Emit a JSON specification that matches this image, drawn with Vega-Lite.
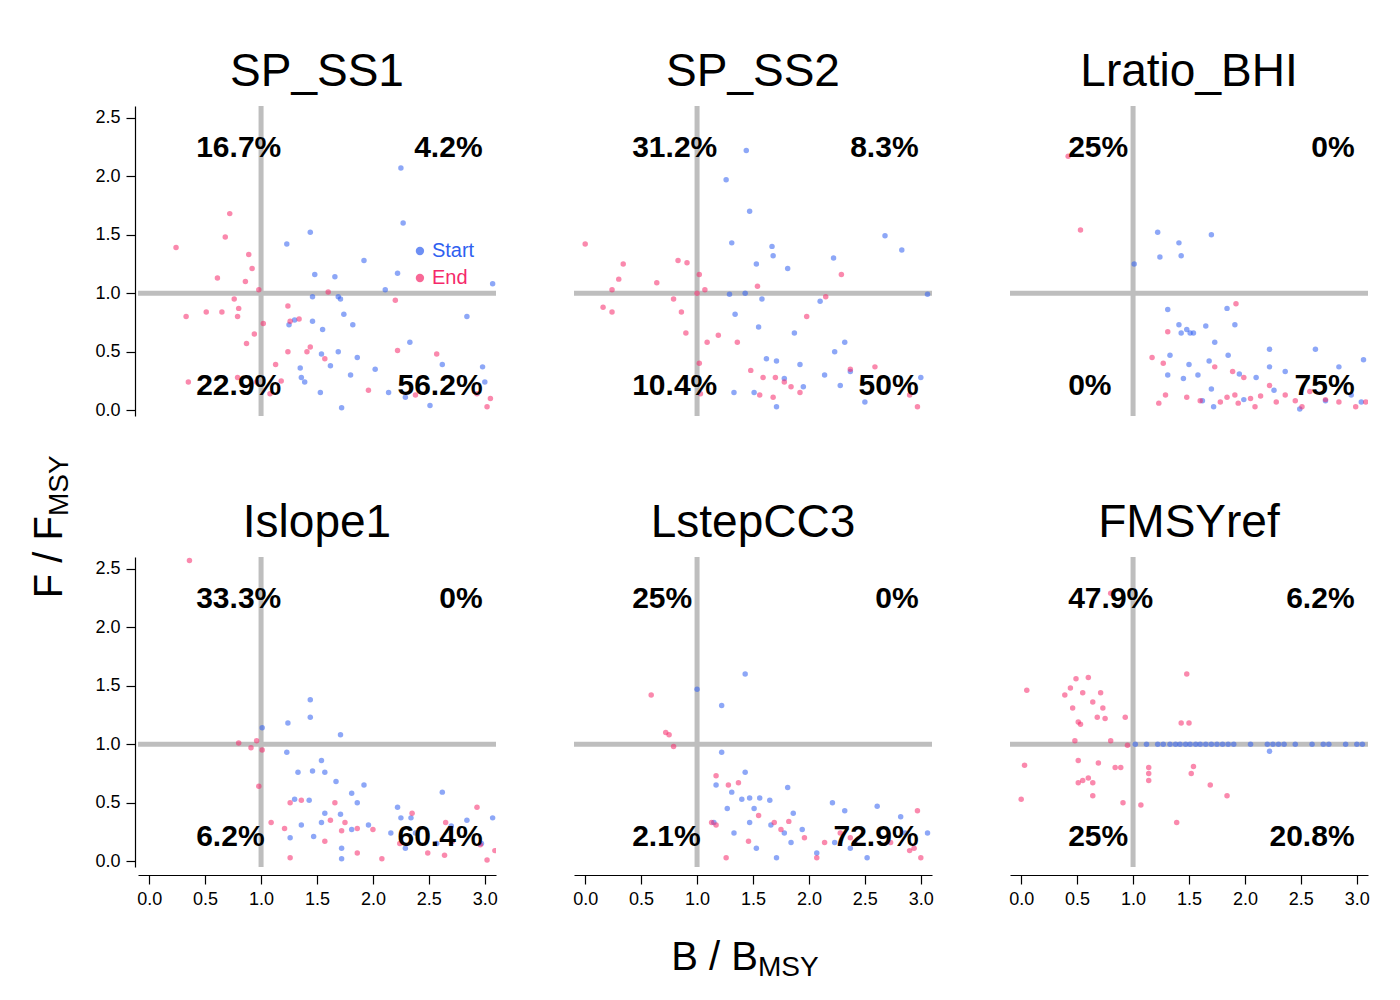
{
  "$schema": "https://vega.github.io/schema/vega-lite/v6.json",
  "background": "white",
  "padding": {"top": 48, "left": 30, "right": 5, "bottom": 5},
  "config": {
    "view": {"stroke": null},
    "font": "Liberation Sans",
    "axis": {"grid": false, "domainColor": "black", "tickColor": "black", "labelColor": "black", "labelFontSize": 18, "tickSize": 9, "labelPadding": 6, "title": null, "domainWidth": 1.2, "tickWidth": 1.2},
    "axisX": {"offset": 5},
    "axisY": {"offset": 0}
  },
  "spacing": 0,
  "vconcat": [
    {
      "hconcat": [
        {
          "width": 30,
          "height": 820,
          "data": {"values": [{"a": "F / F", "b": "MSY"}]},
          "layer": [
            {"mark": {"type": "text", "angle": 270, "fontSize": 40, "align": "right", "baseline": "middle", "font": "Liberation Sans"}, "encoding": {"text": {"field": "a"}, "x": {"value": 12}, "y": {"value": 410}}},
            {"mark": {"type": "text", "angle": 270, "fontSize": 28, "align": "left", "baseline": "middle", "dy": 10, "font": "Liberation Sans"}, "encoding": {"text": {"field": "b"}, "x": {"value": 12}, "y": {"value": 410}}}
          ]
        },
        {
          "data": {"values": [
            {"p":"SP_SS1","k":"s","x":2.25,"y":2.07},{"p":"SP_SS1","k":"s","x":2.27,"y":1.6},{"p":"SP_SS1","k":"s","x":1.23,"y":1.42},{"p":"SP_SS1","k":"s","x":1.44,"y":1.52},{"p":"SP_SS1","k":"s","x":1.92,"y":1.28},{"p":"SP_SS1","k":"s","x":2.22,"y":1.17},{"p":"SP_SS1","k":"s","x":1.48,"y":1.16},{"p":"SP_SS1","k":"s","x":1.66,"y":1.14},{"p":"SP_SS1","k":"s","x":3.07,"y":1.08},{"p":"SP_SS1","k":"s","x":2.11,"y":1.03},{"p":"SP_SS1","k":"s","x":1.69,"y":0.97},{"p":"SP_SS1","k":"s","x":1.46,"y":0.97},{"p":"SP_SS1","k":"s","x":1.71,"y":0.95},{"p":"SP_SS1","k":"s","x":2.84,"y":0.8},{"p":"SP_SS1","k":"s","x":1.3,"y":0.77},{"p":"SP_SS1","k":"s","x":1.46,"y":0.76},{"p":"SP_SS1","k":"s","x":1.25,"y":0.73},{"p":"SP_SS1","k":"s","x":1.82,"y":0.73},{"p":"SP_SS1","k":"s","x":1.74,"y":0.82},{"p":"SP_SS1","k":"s","x":1.55,"y":0.69},{"p":"SP_SS1","k":"s","x":2.33,"y":0.58},{"p":"SP_SS1","k":"s","x":1.69,"y":0.5},{"p":"SP_SS1","k":"s","x":1.54,"y":0.48},{"p":"SP_SS1","k":"s","x":1.86,"y":0.45},{"p":"SP_SS1","k":"s","x":1.62,"y":0.38},{"p":"SP_SS1","k":"s","x":1.35,"y":0.36},{"p":"SP_SS1","k":"s","x":2.62,"y":0.39},{"p":"SP_SS1","k":"s","x":2.98,"y":0.37},{"p":"SP_SS1","k":"s","x":2.02,"y":0.35},{"p":"SP_SS1","k":"s","x":1.39,"y":0.24},{"p":"SP_SS1","k":"s","x":3.0,"y":0.24},{"p":"SP_SS1","k":"s","x":1.8,"y":0.3},{"p":"SP_SS1","k":"s","x":2.14,"y":0.15},{"p":"SP_SS1","k":"s","x":1.53,"y":0.15},{"p":"SP_SS1","k":"s","x":2.29,"y":0.11},{"p":"SP_SS1","k":"s","x":2.51,"y":0.04},{"p":"SP_SS1","k":"s","x":1.72,"y":0.02},{"p":"SP_SS1","k":"s","x":1.36,"y":0.28},
            {"p":"SP_SS1","k":"e","x":0.24,"y":1.39},{"p":"SP_SS1","k":"e","x":0.72,"y":1.68},{"p":"SP_SS1","k":"e","x":0.68,"y":1.48},{"p":"SP_SS1","k":"e","x":0.89,"y":1.33},{"p":"SP_SS1","k":"e","x":0.92,"y":1.21},{"p":"SP_SS1","k":"e","x":0.86,"y":1.1},{"p":"SP_SS1","k":"e","x":0.61,"y":1.13},{"p":"SP_SS1","k":"e","x":0.76,"y":0.95},{"p":"SP_SS1","k":"e","x":0.98,"y":1.03},{"p":"SP_SS1","k":"e","x":1.6,"y":1.01},{"p":"SP_SS1","k":"e","x":2.2,"y":0.94},{"p":"SP_SS1","k":"e","x":0.33,"y":0.8},{"p":"SP_SS1","k":"e","x":0.51,"y":0.84},{"p":"SP_SS1","k":"e","x":0.65,"y":0.84},{"p":"SP_SS1","k":"e","x":0.79,"y":0.8},{"p":"SP_SS1","k":"e","x":0.8,"y":0.87},{"p":"SP_SS1","k":"e","x":1.02,"y":0.74},{"p":"SP_SS1","k":"e","x":1.24,"y":0.89},{"p":"SP_SS1","k":"e","x":1.26,"y":0.76},{"p":"SP_SS1","k":"e","x":1.34,"y":0.78},{"p":"SP_SS1","k":"e","x":0.87,"y":0.57},{"p":"SP_SS1","k":"e","x":0.94,"y":0.65},{"p":"SP_SS1","k":"e","x":1.44,"y":0.54},{"p":"SP_SS1","k":"e","x":1.41,"y":0.5},{"p":"SP_SS1","k":"e","x":1.24,"y":0.5},{"p":"SP_SS1","k":"e","x":2.22,"y":0.51},{"p":"SP_SS1","k":"e","x":2.57,"y":0.48},{"p":"SP_SS1","k":"e","x":0.79,"y":0.28},{"p":"SP_SS1","k":"e","x":0.35,"y":0.24},{"p":"SP_SS1","k":"e","x":0.96,"y":0.24},{"p":"SP_SS1","k":"e","x":1.08,"y":0.14},{"p":"SP_SS1","k":"e","x":1.18,"y":0.25},{"p":"SP_SS1","k":"e","x":1.96,"y":0.17},{"p":"SP_SS1","k":"e","x":2.38,"y":0.13},{"p":"SP_SS1","k":"e","x":2.93,"y":0.14},{"p":"SP_SS1","k":"e","x":3.05,"y":0.1},{"p":"SP_SS1","k":"e","x":3.02,"y":0.03},{"p":"SP_SS1","k":"e","x":1.13,"y":0.39},{"p":"SP_SS1","k":"e","x":1.57,"y":0.44},
            {"p":"SP_SS2","k":"s","x":1.44,"y":2.22},{"p":"SP_SS2","k":"s","x":1.26,"y":1.97},{"p":"SP_SS2","k":"s","x":1.47,"y":1.7},{"p":"SP_SS2","k":"s","x":1.31,"y":1.43},{"p":"SP_SS2","k":"s","x":1.67,"y":1.4},{"p":"SP_SS2","k":"s","x":2.68,"y":1.49},{"p":"SP_SS2","k":"s","x":2.83,"y":1.37},{"p":"SP_SS2","k":"s","x":1.68,"y":1.32},{"p":"SP_SS2","k":"s","x":1.53,"y":1.25},{"p":"SP_SS2","k":"s","x":1.81,"y":1.21},{"p":"SP_SS2","k":"s","x":2.22,"y":1.3},{"p":"SP_SS2","k":"s","x":1.43,"y":1.0},{"p":"SP_SS2","k":"s","x":1.29,"y":0.99},{"p":"SP_SS2","k":"s","x":1.58,"y":0.95},{"p":"SP_SS2","k":"s","x":3.06,"y":0.99},{"p":"SP_SS2","k":"s","x":2.1,"y":0.93},{"p":"SP_SS2","k":"s","x":1.34,"y":0.82},{"p":"SP_SS2","k":"s","x":1.55,"y":0.71},{"p":"SP_SS2","k":"s","x":1.87,"y":0.66},{"p":"SP_SS2","k":"s","x":2.32,"y":0.58},{"p":"SP_SS2","k":"s","x":2.23,"y":0.5},{"p":"SP_SS2","k":"s","x":1.62,"y":0.44},{"p":"SP_SS2","k":"s","x":1.71,"y":0.42},{"p":"SP_SS2","k":"s","x":1.92,"y":0.39},{"p":"SP_SS2","k":"s","x":2.14,"y":0.3},{"p":"SP_SS2","k":"s","x":2.37,"y":0.33},{"p":"SP_SS2","k":"s","x":1.78,"y":0.27},{"p":"SP_SS2","k":"s","x":1.51,"y":0.15},{"p":"SP_SS2","k":"s","x":1.33,"y":0.15},{"p":"SP_SS2","k":"s","x":1.71,"y":0.03},{"p":"SP_SS2","k":"s","x":2.5,"y":0.07},{"p":"SP_SS2","k":"s","x":3.0,"y":0.28},{"p":"SP_SS2","k":"s","x":1.95,"y":0.2},{"p":"SP_SS2","k":"s","x":2.28,"y":0.21},
            {"p":"SP_SS2","k":"e","x":0.0,"y":1.42},{"p":"SP_SS2","k":"e","x":0.34,"y":1.25},{"p":"SP_SS2","k":"e","x":0.3,"y":1.12},{"p":"SP_SS2","k":"e","x":0.24,"y":1.03},{"p":"SP_SS2","k":"e","x":0.64,"y":1.09},{"p":"SP_SS2","k":"e","x":0.83,"y":1.28},{"p":"SP_SS2","k":"e","x":0.91,"y":1.26},{"p":"SP_SS2","k":"e","x":1.02,"y":1.16},{"p":"SP_SS2","k":"e","x":1.54,"y":1.06},{"p":"SP_SS2","k":"e","x":2.29,"y":1.16},{"p":"SP_SS2","k":"e","x":2.15,"y":0.97},{"p":"SP_SS2","k":"e","x":1.0,"y":1.0},{"p":"SP_SS2","k":"e","x":1.07,"y":1.03},{"p":"SP_SS2","k":"e","x":0.79,"y":0.95},{"p":"SP_SS2","k":"e","x":0.16,"y":0.88},{"p":"SP_SS2","k":"e","x":0.24,"y":0.84},{"p":"SP_SS2","k":"e","x":0.86,"y":0.84},{"p":"SP_SS2","k":"e","x":1.98,"y":0.8},{"p":"SP_SS2","k":"e","x":0.9,"y":0.66},{"p":"SP_SS2","k":"e","x":1.19,"y":0.64},{"p":"SP_SS2","k":"e","x":1.09,"y":0.58},{"p":"SP_SS2","k":"e","x":1.36,"y":0.58},{"p":"SP_SS2","k":"e","x":1.02,"y":0.4},{"p":"SP_SS2","k":"e","x":1.48,"y":0.34},{"p":"SP_SS2","k":"e","x":1.59,"y":0.28},{"p":"SP_SS2","k":"e","x":1.7,"y":0.28},{"p":"SP_SS2","k":"e","x":1.78,"y":0.24},{"p":"SP_SS2","k":"e","x":1.84,"y":0.2},{"p":"SP_SS2","k":"e","x":1.92,"y":0.15},{"p":"SP_SS2","k":"e","x":1.56,"y":0.13},{"p":"SP_SS2","k":"e","x":1.68,"y":0.11},{"p":"SP_SS2","k":"e","x":2.59,"y":0.37},{"p":"SP_SS2","k":"e","x":2.9,"y":0.13},{"p":"SP_SS2","k":"e","x":2.97,"y":0.03},{"p":"SP_SS2","k":"e","x":2.37,"y":0.35},{"p":"SP_SS2","k":"e","x":1.03,"y":0.14},
            {"p":"Lratio_BHI","k":"s","x":1.22,"y":1.52},{"p":"Lratio_BHI","k":"s","x":1.41,"y":1.43},{"p":"Lratio_BHI","k":"s","x":1.7,"y":1.5},{"p":"Lratio_BHI","k":"s","x":1.24,"y":1.31},{"p":"Lratio_BHI","k":"s","x":1.43,"y":1.32},{"p":"Lratio_BHI","k":"s","x":1.01,"y":1.25},{"p":"Lratio_BHI","k":"s","x":1.31,"y":0.86},{"p":"Lratio_BHI","k":"s","x":1.41,"y":0.73},{"p":"Lratio_BHI","k":"s","x":1.48,"y":0.69},{"p":"Lratio_BHI","k":"s","x":1.54,"y":0.66},{"p":"Lratio_BHI","k":"s","x":1.65,"y":0.72},{"p":"Lratio_BHI","k":"s","x":1.51,"y":0.66},{"p":"Lratio_BHI","k":"s","x":1.43,"y":0.66},{"p":"Lratio_BHI","k":"s","x":1.91,"y":0.73},{"p":"Lratio_BHI","k":"s","x":1.84,"y":0.87},{"p":"Lratio_BHI","k":"s","x":1.73,"y":0.58},{"p":"Lratio_BHI","k":"s","x":1.85,"y":0.47},{"p":"Lratio_BHI","k":"s","x":1.33,"y":0.47},{"p":"Lratio_BHI","k":"s","x":1.68,"y":0.42},{"p":"Lratio_BHI","k":"s","x":1.5,"y":0.39},{"p":"Lratio_BHI","k":"s","x":2.22,"y":0.52},{"p":"Lratio_BHI","k":"s","x":2.63,"y":0.52},{"p":"Lratio_BHI","k":"s","x":1.95,"y":0.31},{"p":"Lratio_BHI","k":"s","x":2.1,"y":0.28},{"p":"Lratio_BHI","k":"s","x":2.22,"y":0.37},{"p":"Lratio_BHI","k":"s","x":2.36,"y":0.33},{"p":"Lratio_BHI","k":"s","x":2.84,"y":0.37},{"p":"Lratio_BHI","k":"s","x":3.06,"y":0.43},{"p":"Lratio_BHI","k":"s","x":1.31,"y":0.3},{"p":"Lratio_BHI","k":"s","x":1.45,"y":0.27},{"p":"Lratio_BHI","k":"s","x":1.58,"y":0.3},{"p":"Lratio_BHI","k":"s","x":1.7,"y":0.18},{"p":"Lratio_BHI","k":"s","x":1.62,"y":0.08},{"p":"Lratio_BHI","k":"s","x":1.72,"y":0.03},{"p":"Lratio_BHI","k":"s","x":1.99,"y":0.09},{"p":"Lratio_BHI","k":"s","x":2.26,"y":0.17},{"p":"Lratio_BHI","k":"s","x":2.49,"y":0.01},{"p":"Lratio_BHI","k":"s","x":2.95,"y":0.13},{"p":"Lratio_BHI","k":"s","x":3.04,"y":0.07},{"p":"Lratio_BHI","k":"s","x":2.72,"y":0.08},
            {"p":"Lratio_BHI","k":"e","x":0.42,"y":2.17},{"p":"Lratio_BHI","k":"e","x":0.53,"y":1.54},{"p":"Lratio_BHI","k":"e","x":1.92,"y":0.91},{"p":"Lratio_BHI","k":"e","x":1.31,"y":0.67},{"p":"Lratio_BHI","k":"e","x":1.17,"y":0.45},{"p":"Lratio_BHI","k":"e","x":1.27,"y":0.4},{"p":"Lratio_BHI","k":"e","x":1.73,"y":0.37},{"p":"Lratio_BHI","k":"e","x":1.89,"y":0.33},{"p":"Lratio_BHI","k":"e","x":1.23,"y":0.06},{"p":"Lratio_BHI","k":"e","x":1.29,"y":0.13},{"p":"Lratio_BHI","k":"e","x":1.48,"y":0.11},{"p":"Lratio_BHI","k":"e","x":1.6,"y":0.08},{"p":"Lratio_BHI","k":"e","x":1.78,"y":0.07},{"p":"Lratio_BHI","k":"e","x":1.91,"y":0.13},{"p":"Lratio_BHI","k":"e","x":1.99,"y":0.28},{"p":"Lratio_BHI","k":"e","x":2.05,"y":0.1},{"p":"Lratio_BHI","k":"e","x":2.09,"y":0.03},{"p":"Lratio_BHI","k":"e","x":2.14,"y":0.12},{"p":"Lratio_BHI","k":"e","x":2.28,"y":0.07},{"p":"Lratio_BHI","k":"e","x":2.45,"y":0.08},{"p":"Lratio_BHI","k":"e","x":2.51,"y":0.03},{"p":"Lratio_BHI","k":"e","x":2.58,"y":0.16},{"p":"Lratio_BHI","k":"e","x":2.72,"y":0.09},{"p":"Lratio_BHI","k":"e","x":2.84,"y":0.07},{"p":"Lratio_BHI","k":"e","x":2.99,"y":0.03},{"p":"Lratio_BHI","k":"e","x":3.08,"y":0.07},{"p":"Lratio_BHI","k":"e","x":2.22,"y":0.21},{"p":"Lratio_BHI","k":"e","x":1.84,"y":0.11},{"p":"Lratio_BHI","k":"e","x":1.94,"y":0.06},{"p":"Lratio_BHI","k":"e","x":2.36,"y":0.13},
            {"p":"Islope1","k":"s","x":1.01,"y":1.14},{"p":"Islope1","k":"s","x":1.24,"y":1.18},{"p":"Islope1","k":"s","x":1.44,"y":1.38},{"p":"Islope1","k":"s","x":1.44,"y":1.23},{"p":"Islope1","k":"s","x":1.71,"y":1.08},{"p":"Islope1","k":"s","x":1.23,"y":0.93},{"p":"Islope1","k":"s","x":1.54,"y":0.86},{"p":"Islope1","k":"s","x":1.33,"y":0.76},{"p":"Islope1","k":"s","x":1.46,"y":0.77},{"p":"Islope1","k":"s","x":1.57,"y":0.76},{"p":"Islope1","k":"s","x":1.67,"y":0.68},{"p":"Islope1","k":"s","x":1.92,"y":0.65},{"p":"Islope1","k":"s","x":1.81,"y":0.58},{"p":"Islope1","k":"s","x":1.3,"y":0.53},{"p":"Islope1","k":"s","x":1.43,"y":0.52},{"p":"Islope1","k":"s","x":1.86,"y":0.5},{"p":"Islope1","k":"s","x":2.22,"y":0.46},{"p":"Islope1","k":"s","x":2.62,"y":0.59},{"p":"Islope1","k":"s","x":1.57,"y":0.41},{"p":"Islope1","k":"s","x":1.71,"y":0.4},{"p":"Islope1","k":"s","x":1.36,"y":0.31},{"p":"Islope1","k":"s","x":1.54,"y":0.33},{"p":"Islope1","k":"s","x":1.81,"y":0.27},{"p":"Islope1","k":"s","x":1.96,"y":0.31},{"p":"Islope1","k":"s","x":1.26,"y":0.2},{"p":"Islope1","k":"s","x":1.47,"y":0.21},{"p":"Islope1","k":"s","x":2.25,"y":0.37},{"p":"Islope1","k":"s","x":2.38,"y":0.24},{"p":"Islope1","k":"s","x":2.7,"y":0.3},{"p":"Islope1","k":"s","x":2.84,"y":0.35},{"p":"Islope1","k":"s","x":3.07,"y":0.37},{"p":"Islope1","k":"s","x":1.72,"y":0.11},{"p":"Islope1","k":"s","x":1.72,"y":0.02},{"p":"Islope1","k":"s","x":2.29,"y":0.11},{"p":"Islope1","k":"s","x":2.57,"y":0.15},{"p":"Islope1","k":"s","x":2.97,"y":0.15},{"p":"Islope1","k":"s","x":2.16,"y":0.24},{"p":"Islope1","k":"s","x":2.34,"y":0.37},
            {"p":"Islope1","k":"e","x":0.36,"y":2.57},{"p":"Islope1","k":"e","x":0.8,"y":1.01},{"p":"Islope1","k":"e","x":0.96,"y":1.03},{"p":"Islope1","k":"e","x":0.91,"y":0.97},{"p":"Islope1","k":"e","x":1.01,"y":0.95},{"p":"Islope1","k":"e","x":0.98,"y":0.64},{"p":"Islope1","k":"e","x":1.36,"y":0.52},{"p":"Islope1","k":"e","x":1.26,"y":0.5},{"p":"Islope1","k":"e","x":1.09,"y":0.33},{"p":"Islope1","k":"e","x":1.21,"y":0.28},{"p":"Islope1","k":"e","x":1.26,"y":0.03},{"p":"Islope1","k":"e","x":1.62,"y":0.35},{"p":"Islope1","k":"e","x":1.72,"y":0.26},{"p":"Islope1","k":"e","x":1.75,"y":0.33},{"p":"Islope1","k":"e","x":1.86,"y":0.28},{"p":"Islope1","k":"e","x":2.0,"y":0.27},{"p":"Islope1","k":"e","x":2.08,"y":0.02},{"p":"Islope1","k":"e","x":1.86,"y":0.07},{"p":"Islope1","k":"e","x":2.24,"y":0.15},{"p":"Islope1","k":"e","x":2.35,"y":0.41},{"p":"Islope1","k":"e","x":2.49,"y":0.07},{"p":"Islope1","k":"e","x":2.64,"y":0.05},{"p":"Islope1","k":"e","x":2.65,"y":0.33},{"p":"Islope1","k":"e","x":2.71,"y":0.17},{"p":"Islope1","k":"e","x":2.93,"y":0.46},{"p":"Islope1","k":"e","x":2.96,"y":0.14},{"p":"Islope1","k":"e","x":3.02,"y":0.01},{"p":"Islope1","k":"e","x":3.09,"y":0.09},{"p":"Islope1","k":"e","x":1.66,"y":0.5},{"p":"Islope1","k":"e","x":1.57,"y":0.17},
            {"p":"LstepCC3","k":"s","x":1.43,"y":1.6},{"p":"LstepCC3","k":"s","x":1.0,"y":1.47},{"p":"LstepCC3","k":"s","x":1.22,"y":1.33},{"p":"LstepCC3","k":"s","x":1.22,"y":0.93},{"p":"LstepCC3","k":"s","x":1.43,"y":0.76},{"p":"LstepCC3","k":"s","x":1.17,"y":0.65},{"p":"LstepCC3","k":"s","x":1.31,"y":0.59},{"p":"LstepCC3","k":"s","x":1.47,"y":0.54},{"p":"LstepCC3","k":"s","x":1.56,"y":0.54},{"p":"LstepCC3","k":"s","x":1.65,"y":0.52},{"p":"LstepCC3","k":"s","x":1.4,"y":0.53},{"p":"LstepCC3","k":"s","x":1.81,"y":0.63},{"p":"LstepCC3","k":"s","x":1.27,"y":0.45},{"p":"LstepCC3","k":"s","x":1.51,"y":0.45},{"p":"LstepCC3","k":"s","x":1.86,"y":0.41},{"p":"LstepCC3","k":"s","x":2.21,"y":0.5},{"p":"LstepCC3","k":"s","x":2.32,"y":0.43},{"p":"LstepCC3","k":"s","x":2.61,"y":0.47},{"p":"LstepCC3","k":"s","x":2.82,"y":0.38},{"p":"LstepCC3","k":"s","x":1.15,"y":0.33},{"p":"LstepCC3","k":"s","x":1.47,"y":0.33},{"p":"LstepCC3","k":"s","x":1.66,"y":0.31},{"p":"LstepCC3","k":"s","x":1.78,"y":0.24},{"p":"LstepCC3","k":"s","x":1.94,"y":0.27},{"p":"LstepCC3","k":"s","x":2.23,"y":0.16},{"p":"LstepCC3","k":"s","x":2.37,"y":0.11},{"p":"LstepCC3","k":"s","x":2.52,"y":0.03},{"p":"LstepCC3","k":"s","x":3.06,"y":0.24},{"p":"LstepCC3","k":"s","x":1.53,"y":0.11},{"p":"LstepCC3","k":"s","x":1.71,"y":0.03},{"p":"LstepCC3","k":"s","x":1.84,"y":0.16},{"p":"LstepCC3","k":"s","x":2.07,"y":0.07},{"p":"LstepCC3","k":"s","x":1.33,"y":0.24},{"p":"LstepCC3","k":"s","x":2.86,"y":0.24},
            {"p":"LstepCC3","k":"e","x":0.59,"y":1.42},{"p":"LstepCC3","k":"e","x":0.72,"y":1.1},{"p":"LstepCC3","k":"e","x":0.75,"y":1.08},{"p":"LstepCC3","k":"e","x":0.79,"y":0.98},{"p":"LstepCC3","k":"e","x":1.17,"y":0.73},{"p":"LstepCC3","k":"e","x":1.37,"y":0.67},{"p":"LstepCC3","k":"e","x":1.28,"y":0.65},{"p":"LstepCC3","k":"e","x":1.13,"y":0.33},{"p":"LstepCC3","k":"e","x":1.17,"y":0.31},{"p":"LstepCC3","k":"e","x":1.26,"y":0.03},{"p":"LstepCC3","k":"e","x":1.69,"y":0.33},{"p":"LstepCC3","k":"e","x":1.75,"y":0.27},{"p":"LstepCC3","k":"e","x":1.82,"y":0.34},{"p":"LstepCC3","k":"e","x":1.96,"y":0.2},{"p":"LstepCC3","k":"e","x":2.07,"y":0.03},{"p":"LstepCC3","k":"e","x":2.14,"y":0.16},{"p":"LstepCC3","k":"e","x":2.28,"y":0.24},{"p":"LstepCC3","k":"e","x":2.37,"y":0.2},{"p":"LstepCC3","k":"e","x":2.41,"y":0.16},{"p":"LstepCC3","k":"e","x":2.73,"y":0.16},{"p":"LstepCC3","k":"e","x":2.94,"y":0.11},{"p":"LstepCC3","k":"e","x":2.97,"y":0.43},{"p":"LstepCC3","k":"e","x":3.0,"y":0.03},{"p":"LstepCC3","k":"e","x":2.9,"y":0.09},{"p":"LstepCC3","k":"e","x":1.55,"y":0.39},{"p":"LstepCC3","k":"e","x":1.46,"y":0.17},
            {"p":"FMSYref","k":"s","x":1.02,"y":1.0},{"p":"FMSYref","k":"s","x":1.12,"y":1.0},{"p":"FMSYref","k":"s","x":1.22,"y":1.0},{"p":"FMSYref","k":"s","x":1.27,"y":1.0},{"p":"FMSYref","k":"s","x":1.33,"y":1.0},{"p":"FMSYref","k":"s","x":1.38,"y":1.0},{"p":"FMSYref","k":"s","x":1.42,"y":1.0},{"p":"FMSYref","k":"s","x":1.47,"y":1.0},{"p":"FMSYref","k":"s","x":1.51,"y":1.0},{"p":"FMSYref","k":"s","x":1.56,"y":1.0},{"p":"FMSYref","k":"s","x":1.6,"y":1.0},{"p":"FMSYref","k":"s","x":1.65,"y":1.0},{"p":"FMSYref","k":"s","x":1.7,"y":1.0},{"p":"FMSYref","k":"s","x":1.75,"y":1.0},{"p":"FMSYref","k":"s","x":1.8,"y":1.0},{"p":"FMSYref","k":"s","x":1.85,"y":1.0},{"p":"FMSYref","k":"s","x":1.9,"y":1.0},{"p":"FMSYref","k":"s","x":2.05,"y":1.0},{"p":"FMSYref","k":"s","x":2.2,"y":1.0},{"p":"FMSYref","k":"s","x":2.25,"y":1.0},{"p":"FMSYref","k":"s","x":2.3,"y":1.0},{"p":"FMSYref","k":"s","x":2.35,"y":1.0},{"p":"FMSYref","k":"s","x":2.45,"y":1.0},{"p":"FMSYref","k":"s","x":2.6,"y":1.0},{"p":"FMSYref","k":"s","x":2.7,"y":1.0},{"p":"FMSYref","k":"s","x":2.75,"y":1.0},{"p":"FMSYref","k":"s","x":2.9,"y":1.0},{"p":"FMSYref","k":"s","x":3.0,"y":1.0},{"p":"FMSYref","k":"s","x":3.05,"y":1.0},{"p":"FMSYref","k":"s","x":2.22,"y":0.94},
            {"p":"FMSYref","k":"e","x":0.03,"y":0.82},{"p":"FMSYref","k":"e","x":0.0,"y":0.53},{"p":"FMSYref","k":"e","x":0.05,"y":1.46},{"p":"FMSYref","k":"e","x":0.39,"y":1.42},{"p":"FMSYref","k":"e","x":0.44,"y":1.48},{"p":"FMSYref","k":"e","x":0.49,"y":1.56},{"p":"FMSYref","k":"e","x":0.6,"y":1.57},{"p":"FMSYref","k":"e","x":0.55,"y":1.44},{"p":"FMSYref","k":"e","x":0.46,"y":1.31},{"p":"FMSYref","k":"e","x":0.64,"y":1.36},{"p":"FMSYref","k":"e","x":0.71,"y":1.44},{"p":"FMSYref","k":"e","x":0.73,"y":1.31},{"p":"FMSYref","k":"e","x":0.53,"y":1.17},{"p":"FMSYref","k":"e","x":0.48,"y":1.03},{"p":"FMSYref","k":"e","x":0.51,"y":1.19},{"p":"FMSYref","k":"e","x":0.68,"y":1.23},{"p":"FMSYref","k":"e","x":0.75,"y":1.22},{"p":"FMSYref","k":"e","x":0.8,"y":1.03},{"p":"FMSYref","k":"e","x":0.93,"y":1.23},{"p":"FMSYref","k":"e","x":0.95,"y":0.99},{"p":"FMSYref","k":"e","x":0.89,"y":0.8},{"p":"FMSYref","k":"e","x":0.84,"y":0.8},{"p":"FMSYref","k":"e","x":0.69,"y":0.84},{"p":"FMSYref","k":"e","x":0.51,"y":0.86},{"p":"FMSYref","k":"e","x":0.55,"y":0.69},{"p":"FMSYref","k":"e","x":0.6,"y":0.71},{"p":"FMSYref","k":"e","x":0.64,"y":0.67},{"p":"FMSYref","k":"e","x":0.51,"y":0.67},{"p":"FMSYref","k":"e","x":0.64,"y":0.56},{"p":"FMSYref","k":"e","x":0.91,"y":0.5},{"p":"FMSYref","k":"e","x":1.07,"y":0.48},{"p":"FMSYref","k":"e","x":1.14,"y":0.8},{"p":"FMSYref","k":"e","x":1.14,"y":0.69},{"p":"FMSYref","k":"e","x":1.14,"y":0.75},{"p":"FMSYref","k":"e","x":1.43,"y":1.18},{"p":"FMSYref","k":"e","x":1.5,"y":1.18},{"p":"FMSYref","k":"e","x":1.48,"y":1.6},{"p":"FMSYref","k":"e","x":1.52,"y":0.75},{"p":"FMSYref","k":"e","x":1.54,"y":0.81},{"p":"FMSYref","k":"e","x":1.69,"y":0.65},{"p":"FMSYref","k":"e","x":1.84,"y":0.56},{"p":"FMSYref","k":"e","x":1.39,"y":0.33},{"p":"FMSYref","k":"e","x":0.8,"y":2.29},
            {"p":"SP_SS1","k":"pl","x":0.42,"y":2.24,"t":"16.7%"},{"p":"SP_SS1","k":"pr","x":2.98,"y":2.24,"t":"4.2%"},{"p":"SP_SS1","k":"pl","x":0.42,"y":0.21,"t":"22.9%"},{"p":"SP_SS1","k":"pr","x":2.98,"y":0.21,"t":"56.2%"},
            {"p":"SP_SS2","k":"pl","x":0.42,"y":2.24,"t":"31.2%"},{"p":"SP_SS2","k":"pr","x":2.98,"y":2.24,"t":"8.3%"},{"p":"SP_SS2","k":"pl","x":0.42,"y":0.21,"t":"10.4%"},{"p":"SP_SS2","k":"pr","x":2.98,"y":0.21,"t":"50%"},
            {"p":"Lratio_BHI","k":"pl","x":0.42,"y":2.24,"t":"25%"},{"p":"Lratio_BHI","k":"pr","x":2.98,"y":2.24,"t":"0%"},{"p":"Lratio_BHI","k":"pl","x":0.42,"y":0.21,"t":"0%"},{"p":"Lratio_BHI","k":"pr","x":2.98,"y":0.21,"t":"75%"},
            {"p":"Islope1","k":"pl","x":0.42,"y":2.24,"t":"33.3%"},{"p":"Islope1","k":"pr","x":2.98,"y":2.24,"t":"0%"},{"p":"Islope1","k":"pl","x":0.42,"y":0.21,"t":"6.2%"},{"p":"Islope1","k":"pr","x":2.98,"y":0.21,"t":"60.4%"},
            {"p":"LstepCC3","k":"pl","x":0.42,"y":2.24,"t":"25%"},{"p":"LstepCC3","k":"pr","x":2.98,"y":2.24,"t":"0%"},{"p":"LstepCC3","k":"pl","x":0.42,"y":0.21,"t":"2.1%"},{"p":"LstepCC3","k":"pr","x":2.98,"y":0.21,"t":"72.9%"},
            {"p":"FMSYref","k":"pl","x":0.42,"y":2.24,"t":"47.9%"},{"p":"FMSYref","k":"pr","x":2.98,"y":2.24,"t":"6.2%"},{"p":"FMSYref","k":"pl","x":0.42,"y":0.21,"t":"25%"},{"p":"FMSYref","k":"pr","x":2.98,"y":0.21,"t":"20.8%"},
            {"p":"SP_SS1","k":"ls","x":2.42,"y":1.36,"t":"Start"},{"p":"SP_SS1","k":"le","x":2.42,"y":1.13,"t":"End"}
          ]},
          "columns": 3,
          "spacing": {"column": 72, "row": 80},
          "facet": {
            "field": "p",
            "sort": ["SP_SS1", "SP_SS2", "Lratio_BHI", "Islope1", "LstepCC3", "FMSYref"],
            "header": {"title": null, "labelFontSize": 46, "labelFont": "Liberation Sans", "labelPadding": 8, "labelColor": "black"}
          },
          "spec": {
            "width": 358,
            "height": 310,
            "encoding": {
              "x": {"field": "x", "type": "quantitative", "scale": {"domain": [-0.1, 3.1], "nice": false, "zero": false}, "axis": {"values": [0, 0.5, 1, 1.5, 2, 2.5, 3], "format": ".1f"}},
              "y": {"field": "y", "type": "quantitative", "scale": {"domain": [-0.05, 2.6], "nice": false, "zero": false}, "axis": {"values": [0, 0.5, 1, 1.5, 2, 2.5], "format": ".1f"}}
            },
            "layer": [
              {
                "transform": [{"filter": "datum.k == 'pl' && datum.y > 1"}],
                "mark": {"type": "rule", "color": "#bebebe", "strokeWidth": 5},
                "encoding": {"x": {"datum": 1}, "y": null}
              },
              {
                "transform": [{"filter": "datum.k == 'pl' && datum.y > 1"}],
                "mark": {"type": "rule", "color": "#bebebe", "strokeWidth": 5},
                "encoding": {"y": {"datum": 1}, "x": null}
              },
              {
                "transform": [{"filter": "datum.k == 's' || datum.k == 'e'"}],
                "mark": {"type": "circle", "size": 30, "opacity": 0.55, "clip": true},
                "encoding": {"color": {"field": "k", "type": "nominal", "scale": {"domain": ["s", "e"], "range": ["#2f5ff0", "#f5286a"]}, "legend": null}}
              },
              {
                "transform": [{"filter": "datum.k == 'pl'"}],
                "mark": {"type": "text", "align": "left", "baseline": "middle", "fontSize": 30, "fontWeight": "bold", "font": "Liberation Sans", "color": "black"},
                "encoding": {"text": {"field": "t"}}
              },
              {
                "transform": [{"filter": "datum.k == 'pr'"}],
                "mark": {"type": "text", "align": "right", "baseline": "middle", "fontSize": 30, "fontWeight": "bold", "font": "Liberation Sans", "color": "black"},
                "encoding": {"text": {"field": "t"}}
              },
              {
                "transform": [{"filter": "datum.k == 'ls' || datum.k == 'le'"}],
                "mark": {"type": "circle", "size": 70},
                "encoding": {"color": {"field": "k", "type": "nominal", "scale": {"domain": ["ls", "le"], "range": ["#8fa6f5", "#f77ca3"]}, "legend": null}}
              },
              {
                "transform": [{"filter": "datum.k == 'ls' || datum.k == 'le'"}],
                "mark": {"type": "text", "align": "left", "baseline": "middle", "dx": 12, "fontSize": 20, "font": "Liberation Sans"},
                "encoding": {"text": {"field": "t"}, "color": {"field": "k", "type": "nominal", "scale": {"domain": ["ls", "le"], "range": ["#a9bcf7", "#f7a0bd"]}, "legend": null}}
              }
            ]
          },
          "resolve": {"scale": {"color": "independent"}}
        }
      ]
    },
    {
      "width": 1330,
      "height": 60,
      "data": {"values": [{"a": "B / B", "b": "MSY"}]},
      "layer": [
        {"mark": {"type": "text", "fontSize": 40, "align": "right", "baseline": "middle", "font": "Liberation Sans"}, "encoding": {"text": {"field": "a"}, "x": {"value": 720}, "y": {"value": 32}}},
        {"mark": {"type": "text", "fontSize": 28, "align": "left", "baseline": "middle", "dy": 10, "font": "Liberation Sans"}, "encoding": {"text": {"field": "b"}, "x": {"value": 720}, "y": {"value": 32}}}
      ]
    }
  ]
}
